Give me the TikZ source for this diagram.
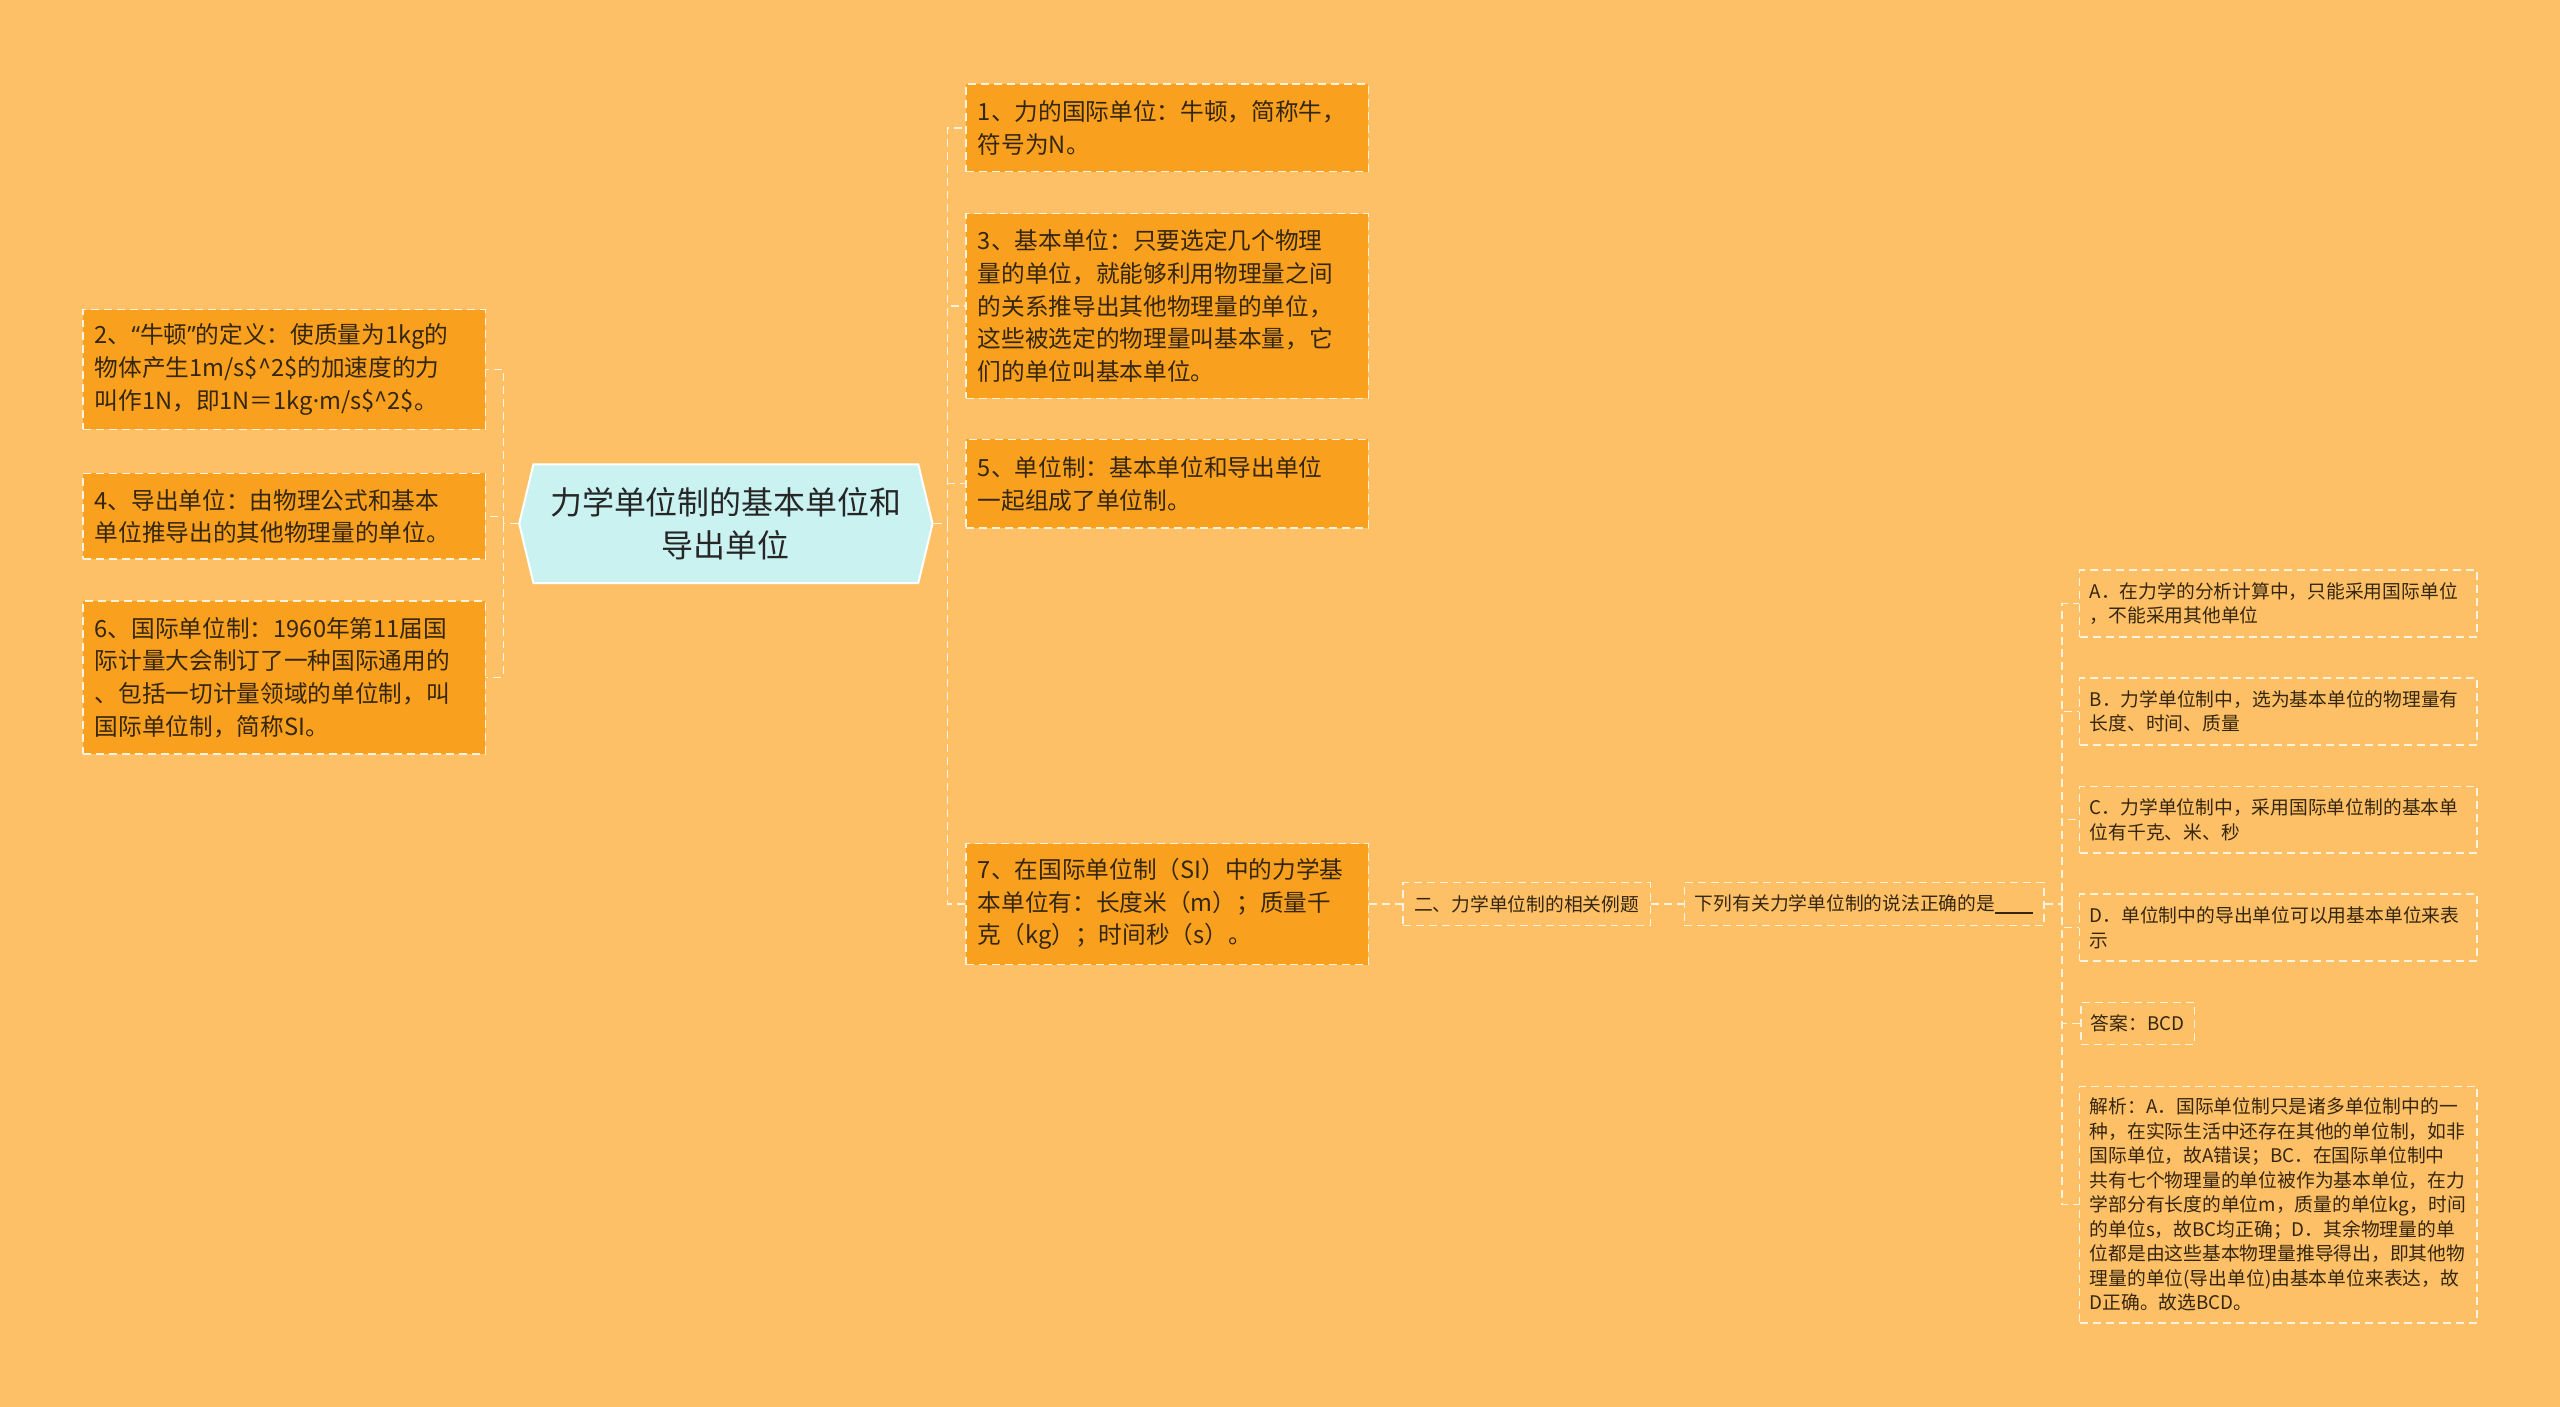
\documentclass[tikz,border=0pt]{standalone}
\usepackage{fontspec}
\setmainfont{Noto Sans CJK SC}
\newfontfamily\latinfont{Noto Sans}
\usepackage{tikz}
\usetikzlibrary{shapes.symbols}

\definecolor{bgorange}{HTML}{FEC066}
\definecolor{boxorange}{HTML}{F9A11F}
\definecolor{hubcyan}{HTML}{C9F2F0}
\definecolor{inkbrown}{HTML}{35260F}
\definecolor{dashwhite}{HTML}{FFF3DD}

\begin{document}
\begin{tikzpicture}[x=0.5pt,y=-0.5pt,
  dashbox/.style={draw=dashwhite, dash pattern=on 4pt off 2.5pt, line width=0.7pt, text=inkbrown},
  fact/.style={dashbox, fill=boxorange, align=left, text width=189.5pt, inner xsep=6pt, inner ysep=0pt,
    font=\fontsize{11.85}{16.3}\selectfont},
  small/.style={dashbox, align=left, inner xsep=5pt, inner ysep=0pt, font=\fontsize{9.4}{12.25}\selectfont},
  option/.style={small, text width=189pt, minimum height=33.5pt},
  hub/.style={shape=signal, signal to=west and east, signal pointer angle=153, fill=hubcyan, draw=white,
    line width=1pt, minimum width=207pt, minimum height=59.5pt, align=center, text=black!85,
    font=\fontsize{16}{22}\selectfont},
  link/.style={draw=dashwhite, dash pattern=on 4pt off 2.5pt, line width=0.7pt}]

\fill[bgorange] (-2,-2) rectangle (2562,1407);
\useasboundingbox (0,0) rectangle (2560,1405);

\node[hub] (hub) at (725,522.5) {力学单位制的基本单位和\\导出单位};

% left side
\node[fact, minimum height=60pt] (n2) at (282.5,368) {2、{\latinfont“}牛顿{\latinfont”}的定义：使质量为1kg的\\物体产生1m/s\$\textasciicircum2\$的加速度的力\\叫作1N，即1N＝1kg{\latinfont·}m/s\$\textasciicircum2\$。};
\node[fact, minimum height=43pt] (n4) at (282.5,515) {4、导出单位：由物理公式和基本\\单位推导出的其他物理量的单位。};
\node[fact, minimum height=76.5pt] (n6) at (282.5,676.5) {6、国际单位制：1960年第11届国\\际计量大会制订了一种国际通用的\\、包括一切计量领域的单位制，叫\\国际单位制，简称SI。};

% right side
\node[fact, minimum height=44pt] (n1) at (1167,126) {1、力的国际单位：牛顿，简称牛，\\符号为N。};
\node[fact, minimum height=92.5pt] (n3) at (1167,304.5) {3、基本单位：只要选定几个物理\\量的单位，就能够利用物理量之间\\的关系推导出其他物理量的单位，\\这些被选定的物理量叫基本量，它\\们的单位叫基本单位。};
\node[fact, minimum height=44.5pt] (n5) at (1167,482.5) {5、单位制：基本单位和导出单位\\一起组成了单位制。};
\node[fact, minimum height=60.5pt] (n7) at (1167,903.5) {7、在国际单位制（SI）中的力学基\\本单位有：长度米（m）；质量千\\克（kg）；时间秒（s）。};

% example branch
\node[small, align=center, minimum width=124pt, minimum height=21.5pt] (ex) at (1527,903.5) {二、力学单位制的相关例题};
\node[small, align=center, minimum width=180pt, minimum height=21.5pt] (q) at (1865,903.5) {下列有关力学单位制的说法正确的是\rule[-1.5pt]{19pt}{0.8pt}};

\node[option] (oA) at (2280,602.5) {A．在力学的分析计算中，只能采用国际单位\\，不能采用其他单位};
\node[option] (oB) at (2280,710.5) {B．力学单位制中，选为基本单位的物理量有\\长度、时间、质量};
\node[option] (oC) at (2280,819) {C．力学单位制中，采用国际单位制的基本单\\位有千克、米、秒};
\node[option] (oD) at (2280,927) {D．单位制中的导出单位可以用基本单位来表\\示};
\node[small, minimum height=21pt] (ans) at (2139,1023) {答案：BCD};
\node[small, text width=189pt, minimum height=118.5pt] (expl) at (2280,1204.5) {解析：A．国际单位制只是诸多单位制中的一\\种，在实际生活中还存在其他的单位制，如非\\国际单位，故A错误；BC．在国际单位制中\\共有七个物理量的单位被作为基本单位，在力\\学部分有长度的单位m，质量的单位kg，时间\\的单位s，故BC均正确；D．其余物理量的单\\位都是由这些基本物理量推导得出，即其他物\\理量的单位(导出单位)由基本单位来表达，故\\D正确。故选BCD。};

\coordinate (jl) at (502,522.5);
\coordinate (jr) at (947,522.5);
\coordinate (jq) at (2063,903.5);

\draw[link] (hub.west) -- (jl);
\draw[link] (jl) |- (n2.east);
\draw[link] (jl) |- (n4.east);
\draw[link] (jl) |- (n6.east);

\draw[link] (hub.east) -- (jr);
\draw[link] (jr) |- (n1.west);
\draw[link] (jr) |- (n3.west);
\draw[link] (jr) |- (n5.west);
\draw[link] (jr) |- (n7.west);

\draw[link] (n7) -- (ex);
\draw[link] (ex) -- (q);
\draw[link] (q.east) -- (jq);
\draw[link] (jq) |- (oA.west);
\draw[link] (jq) |- (oB.west);
\draw[link] (jq) |- (oC.west);
\draw[link] (jq) |- (oD.west);
\draw[link] (jq) |- (ans.west);
\draw[link] (jq) |- (expl.west);
\end{tikzpicture}
\end{document}
